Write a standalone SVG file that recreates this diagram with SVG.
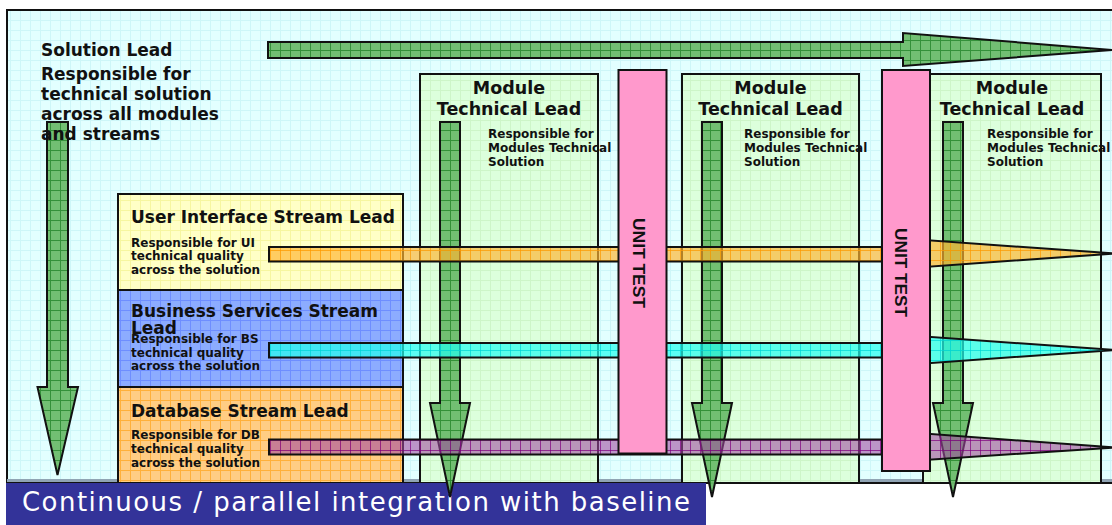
<svg xmlns="http://www.w3.org/2000/svg" width="1112" height="525" viewBox="0 0 1112 525">
  <defs>
    <!-- background and box fills: flat colour with a fine 10px grid -->
    <pattern id="gFrame" width="10" height="10" patternUnits="userSpaceOnUse">
      <rect width="10" height="10" fill="#e2ffff"/>
      <path d="M0 0.5H10M0.5 0V10" stroke="#cdf6f8" stroke-width="1"/>
    </pattern>
    <pattern id="gModule" width="10" height="10" patternUnits="userSpaceOnUse">
      <rect width="10" height="10" fill="#dcffdc"/>
      <path d="M0 0.5H10M0.5 0V10" stroke="#cdf5c8" stroke-width="1"/>
    </pattern>
    <pattern id="gUI" width="10" height="10" patternUnits="userSpaceOnUse">
      <rect width="10" height="10" fill="#ffffc6"/>
      <path d="M0 0.5H10M0.5 0V10" stroke="#f6f6a0" stroke-width="1"/>
    </pattern>
    <pattern id="gBS" width="10" height="10" patternUnits="userSpaceOnUse">
      <rect width="10" height="10" fill="#8cacff"/>
      <path d="M0 0.5H10M0.5 0V10" stroke="#6e8eff" stroke-width="1"/>
    </pattern>
    <pattern id="gDB" width="10" height="10" patternUnits="userSpaceOnUse">
      <rect width="10" height="10" fill="#ffcd84"/>
      <path d="M0 0.5H10M0.5 0V10" stroke="#ffb03a" stroke-width="1"/>
    </pattern>
    <!-- arrow fills -->
    <pattern id="gGreen" width="10" height="10" patternUnits="userSpaceOnUse">
      <rect width="10" height="10" fill="#6cbc6c"/>
      <path d="M0 0.5H10M0.5 0V10" stroke="#2c8c30" stroke-width="1"/>
    </pattern>
    <pattern id="gOrange" width="10" height="10" patternUnits="userSpaceOnUse">
      <rect width="10" height="10" fill="#ffb530" fill-opacity="0.68"/>
      <path d="M0 0.5H10M0.5 0V10" stroke="#ff9a00" stroke-opacity="0.7" stroke-width="1"/>
    </pattern>
    <pattern id="gCyan" width="10" height="10" patternUnits="userSpaceOnUse">
      <rect width="10" height="10" fill="#22fff0" fill-opacity="0.7"/>
      <path d="M0 0.5H10M0.5 0V10" stroke="#00d8d8" stroke-opacity="0.7" stroke-width="1"/>
    </pattern>
    <pattern id="gPurple" width="10" height="10" patternUnits="userSpaceOnUse">
      <rect width="10" height="10" fill="#a048a0" fill-opacity="0.58"/>
      <path d="M0 0.5H10M0.5 0V10" stroke="#800080" stroke-opacity="0.7" stroke-width="1"/>
    </pattern>
    <style>
      .box { stroke: #111; stroke-width: 2; }
      .arrow { stroke: #111; stroke-width: 2; stroke-linejoin: miter; }
      .green { fill: url(#gGreen); fill-opacity: 0.95; }
      .title { font-family: "DejaVu Sans", Verdana, sans-serif; font-weight: bold; font-size: 17px; fill: #111; }
      .mtitle { font-family: "DejaVu Sans", Verdana, sans-serif; font-weight: bold; font-size: 17.5px; fill: #111; text-anchor: middle; }
      .small { font-family: "DejaVu Sans", Verdana, sans-serif; font-weight: bold; font-size: 12px; fill: #111; }
      .pink { fill: #ff99cc; stroke: #111; stroke-width: 2; }
      .vtext { font-family: "Liberation Sans", Arial, sans-serif; font-weight: bold; font-size: 17px; fill: #111; text-anchor: middle; }
    </style>
  </defs>

  <rect width="1112" height="525" fill="#ffffff"/>

  <!-- outer frame -->
  <g id="frame">
    <rect x="7" y="10" width="1115" height="473" fill="url(#gFrame)" class="box"/>
    <line x1="7" y1="480.5" x2="1112" y2="480.5" stroke="#90a4b4" stroke-width="3"/>
  </g>

  <!-- stream lead boxes -->
  <g id="ui-stream">
    <rect x="118" y="194" width="285" height="96" fill="url(#gUI)" class="box"/>
    <text class="title" x="131" y="223" font-size="17.5">User Interface Stream Lead</text>
    <text class="small" x="131" y="247">Responsible for UI</text>
    <text class="small" x="131" y="260">technical quality</text>
    <text class="small" x="131" y="274">across the solution</text>
  </g>
  <g id="bs-stream">
    <rect x="118" y="290" width="285" height="97" fill="url(#gBS)" class="box"/>
    <text class="title" x="131" y="317" font-size="17.5">Business Services Stream</text>
    <text class="title" x="131" y="334" font-size="17.5">Lead</text>
    <text class="small" x="131" y="343">Responsible for BS</text>
    <text class="small" x="131" y="357">technical quality</text>
    <text class="small" x="131" y="370">across the solution</text>
  </g>
  <g id="db-stream">
    <rect x="118" y="387" width="285" height="96" fill="url(#gDB)" class="box"/>
    <text class="title" x="131" y="417" font-size="17.5">Database Stream Lead</text>
    <text class="small" x="131" y="439">Responsible for DB</text>
    <text class="small" x="131" y="453">technical quality</text>
    <text class="small" x="131" y="467">across the solution</text>
  </g>

  <!-- module technical lead boxes -->
  <g id="module-1">
    <rect x="420" y="74" width="178" height="409" fill="url(#gModule)" class="box"/>
    <text class="mtitle" x="509" y="94">Module</text>
    <text class="mtitle" x="509" y="115">Technical Lead</text>
    <text class="small" x="488" y="138">Responsible for</text>
    <text class="small" x="488" y="152">Modules Technical</text>
    <text class="small" x="488" y="166">Solution</text>
  </g>
  <g id="module-2">
    <rect x="682" y="74" width="177" height="409" fill="url(#gModule)" class="box"/>
    <text class="mtitle" x="770.5" y="94">Module</text>
    <text class="mtitle" x="770.5" y="115">Technical Lead</text>
    <text class="small" x="744" y="138">Responsible for</text>
    <text class="small" x="744" y="152">Modules Technical</text>
    <text class="small" x="744" y="166">Solution</text>
  </g>
  <g id="module-3">
    <rect x="923" y="74" width="178" height="409" fill="url(#gModule)" class="box"/>
    <text class="mtitle" x="1012" y="94">Module</text>
    <text class="mtitle" x="1012" y="115">Technical Lead</text>
    <text class="small" x="987" y="138">Responsible for</text>
    <text class="small" x="987" y="152">Modules Technical</text>
    <text class="small" x="987" y="166">Solution</text>
  </g>

  <!-- integration baseline bar -->
  <g id="integration">
    <rect x="6" y="483" width="700" height="44" fill="#333399"/>
    <text x="22" y="511" font-family="'DejaVu Sans', Verdana, sans-serif" font-size="26" fill="#ffffff" textLength="668" lengthAdjust="spacing">Continuous / parallel integration with baseline</text>
  </g>

  <!-- arrows -->
  <g id="connectors">
    <!-- solution lead: across all modules and down all streams -->
    <polygon class="arrow green" points="268,42 903,42 903,33 1112,50 903,66 903,58 268,58"/>
    <polygon class="arrow green" points="47,122 68,122 68,387 78,387 57.5,475 37.5,387 47,387"/>
    <!-- module leads -->
    <polygon class="arrow green" points="440,122 460,122 460,403 470,403 450,497 430,403 440,403"/>
    <polygon class="arrow green" points="702,122 722,122 722,403 732,403 712,497 692,403 702,403"/>
    <polygon class="arrow green" points="943,122 963,122 963,403 973,403 953,497 933,403 943,403"/>
    <!-- stream leads -->
    <polygon class="arrow" fill="url(#gOrange)" points="269,247 925,247 925,240 1114,253.5 925,267 925,261.5 269,261.5"/>
    <polygon class="arrow" fill="url(#gCyan)" points="269,343 925,343 925,336.5 1114,350 925,363.5 925,357.5 269,357.5"/>
    <polygon class="arrow" fill="url(#gPurple)" points="269,439.5 925,439.5 925,433.5 1114,447.5 925,460 925,454.5 269,454.5"/>
  </g>

  <!-- unit test gates -->
  <g id="unit-test-1">
    <rect x="618.5" y="70" width="48" height="383.5" class="pink"/>
    <text class="vtext" transform="translate(633,263) rotate(90)" textLength="90" lengthAdjust="spacingAndGlyphs">UNIT TEST</text>
  </g>
  <g id="unit-test-2">
    <rect x="882" y="70" width="48" height="401" class="pink"/>
    <text class="vtext" transform="translate(895,272.5) rotate(90)" textLength="89" lengthAdjust="spacingAndGlyphs">UNIT TEST</text>
  </g>

  <!-- solution lead label -->
  <g id="solution-lead">
    <text class="title" x="41" y="56">Solution Lead</text>
    <text class="title" x="41" y="80">Responsible for</text>
    <text class="title" x="41" y="100">technical solution</text>
    <text class="title" x="41" y="120">across all modules</text>
    <text class="title" x="41" y="140">and streams</text>
  </g>
</svg>
